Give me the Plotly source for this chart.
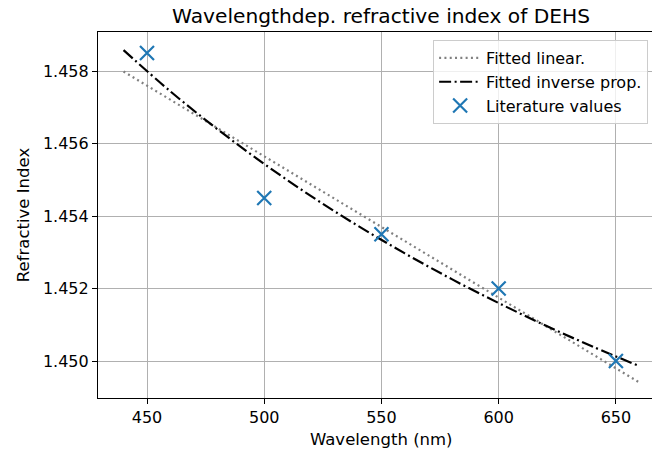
import plotly.graph_objects as go

# Literature values
lit_wavelength = [450, 500, 550, 600, 650]
lit_index = [1.4585, 1.4545, 1.4535, 1.4520, 1.4500]

# Fitted linear (endpoints)
lin_wavelength = [440, 660]
lin_index = [1.45799, 1.44941]

# Fitted inverse proportional
inv_wavelength = [440, 460, 480, 500, 520, 540, 560, 580, 600, 620, 640, 660]
inv_index = [1.45858, 1.45744, 1.45640, 1.45544, 1.45455, 1.45373,
             1.45297, 1.45226, 1.45160, 1.45098, 1.45040, 1.44986]

x_ticks = [450, 500, 550, 600, 650]
y_ticks = [1.450, 1.452, 1.454, 1.456, 1.458]
y_tick_text = ["1.450", "1.452", "1.454", "1.456", "1.458"]

FONT = "DejaVu Sans"

fig = go.Figure()
fig.add_trace(go.Scatter(
    x=lin_wavelength, y=lin_index, mode="lines", name="Fitted linear.",
    line=dict(color="#808080", width=2.2, dash="2px,3.3px")))
fig.add_trace(go.Scatter(
    x=inv_wavelength, y=inv_index, mode="lines", name="Fitted inverse prop.",
    line=dict(color="black", width=2.2, dash="12px,3.5px,2px,3.5px"),
    line_shape="spline"))
fig.add_trace(go.Scatter(
    x=lit_wavelength, y=lit_index, mode="markers", name="Literature values",
    marker=dict(symbol="x-thin", size=14, line=dict(color="#1f77b4", width=2.2),
                color="#1f77b4")))

fig.update_layout(
    width=653, height=456,
    margin=dict(l=98, r=1, t=32, b=58),
    paper_bgcolor="white", plot_bgcolor="white",
    font=dict(family=FONT, size=16, color="black"),
    title=dict(text="Wavelengthdep. refractive index of DEHS",
               x=381 / 653, xanchor="center",
               y=1 - 16 / 456, yanchor="middle",
               font=dict(family=FONT, size=20.2, color="black")),
    showlegend=True,
    legend=dict(x=0.993, y=0.978, xanchor="right", yanchor="top",
                bgcolor="rgba(255,255,255,0.8)", bordercolor="#cccccc",
                borderwidth=1, font=dict(family=FONT, size=16),
                tracegroupgap=0, itemwidth=42),
)
fig.add_annotation(
    text="Wavelength (nm)", xref="paper", yref="paper",
    x=(381 - 98) / 554, y=(398 - 440) / 366, xanchor="center", yanchor="middle",
    showarrow=False, font=dict(family=FONT, size=16.5, color="black"))
fig.update_xaxes(
    range=[429.1, 665.4], tickvals=x_ticks, ticks="outside", ticklen=5,
    tickwidth=1.2, tickcolor="black", showline=True, linecolor="black",
    linewidth=1.2, mirror=True, showgrid=True, gridcolor="#b0b0b0", gridwidth=1.2,
    zeroline=False,
    tickfont=dict(family=FONT, size=16))
fig.update_yaxes(
    range=[1.44898, 1.45908], tickvals=y_ticks, ticktext=y_tick_text,
    ticks="outside", ticklen=5, tickwidth=1.2, tickcolor="black",
    showline=True, linecolor="black", linewidth=1.2, mirror=False,
    showgrid=True, gridcolor="#b0b0b0", gridwidth=1.2, zeroline=False,
    title=dict(text="Refractive Index", standoff=9,
               font=dict(family=FONT, size=16.5, color="black")),
    tickfont=dict(family=FONT, size=16))

fig.write_html("out.html")
